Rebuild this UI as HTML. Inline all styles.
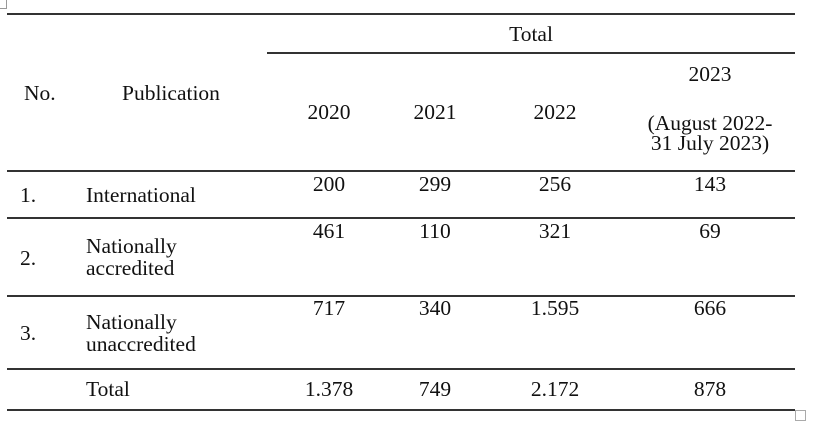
<!DOCTYPE html>
<html><head><style>
body{margin:0;width:815px;height:421px;background:#fff;position:relative;overflow:hidden;font-family:"Liberation Serif",serif;font-size:21.5px;color:#111}
.l{position:absolute;height:1.5px;background:#333}
.t{position:absolute;line-height:22px;white-space:nowrap}
.c{transform:translateX(-50%);text-align:center}
</style></head><body>
<div style="position:absolute;left:0;top:0;width:6px;height:8px;border:1px solid #999;border-left:none;border-top:none"></div>
<div style="position:absolute;left:795px;top:410px;width:9px;height:9px;border:1px solid #aaa"></div>
<div class="l" style="left:7px;width:788px;top:13px"></div>
<div class="l" style="left:267px;width:528px;top:52px"></div>
<div class="l" style="left:7px;width:788px;top:170px"></div>
<div class="l" style="left:7px;width:788px;top:217px"></div>
<div class="l" style="left:7px;width:788px;top:295px"></div>
<div class="l" style="left:7px;width:788px;top:368px"></div>
<div class="l" style="left:7px;width:788px;top:409px"></div>

<div class="t c" style="left:531px;top:23px">Total</div>
<div class="t" style="left:24px;top:82px">No.</div>
<div class="t" style="left:122px;top:82px">Publication</div>
<div class="t c" style="left:329px;top:101px">2020</div>
<div class="t c" style="left:435px;top:101px">2021</div>
<div class="t c" style="left:555px;top:101px">2022</div>
<div class="t c" style="left:710px;top:63px">2023</div>
<div class="t c" style="left:710px;top:112px">(August 2022-</div>
<div class="t c" style="left:710px;top:132px">31 July 2023)</div>

<div class="t" style="left:20px;top:184px">1.</div>
<div class="t" style="left:86px;top:184px">International</div>
<div class="t c" style="left:329px;top:173px">200</div>
<div class="t c" style="left:435px;top:173px">299</div>
<div class="t c" style="left:555px;top:173px">256</div>
<div class="t c" style="left:710px;top:173px">143</div>

<div class="t" style="left:20px;top:247px">2.</div>
<div class="t" style="left:86px;top:235px">Nationally</div>
<div class="t" style="left:86px;top:257px">accredited</div>
<div class="t c" style="left:329px;top:220px">461</div>
<div class="t c" style="left:435px;top:220px">110</div>
<div class="t c" style="left:555px;top:220px">321</div>
<div class="t c" style="left:710px;top:220px">69</div>

<div class="t" style="left:20px;top:322px">3.</div>
<div class="t" style="left:86px;top:311px">Nationally</div>
<div class="t" style="left:86px;top:333px">unaccredited</div>
<div class="t c" style="left:329px;top:297px">717</div>
<div class="t c" style="left:435px;top:297px">340</div>
<div class="t c" style="left:555px;top:297px">1.595</div>
<div class="t c" style="left:710px;top:297px">666</div>

<div class="t" style="left:86px;top:378px">Total</div>
<div class="t c" style="left:329px;top:378px">1.378</div>
<div class="t c" style="left:435px;top:378px">749</div>
<div class="t c" style="left:555px;top:378px">2.172</div>
<div class="t c" style="left:710px;top:378px">878</div>
</body></html>
